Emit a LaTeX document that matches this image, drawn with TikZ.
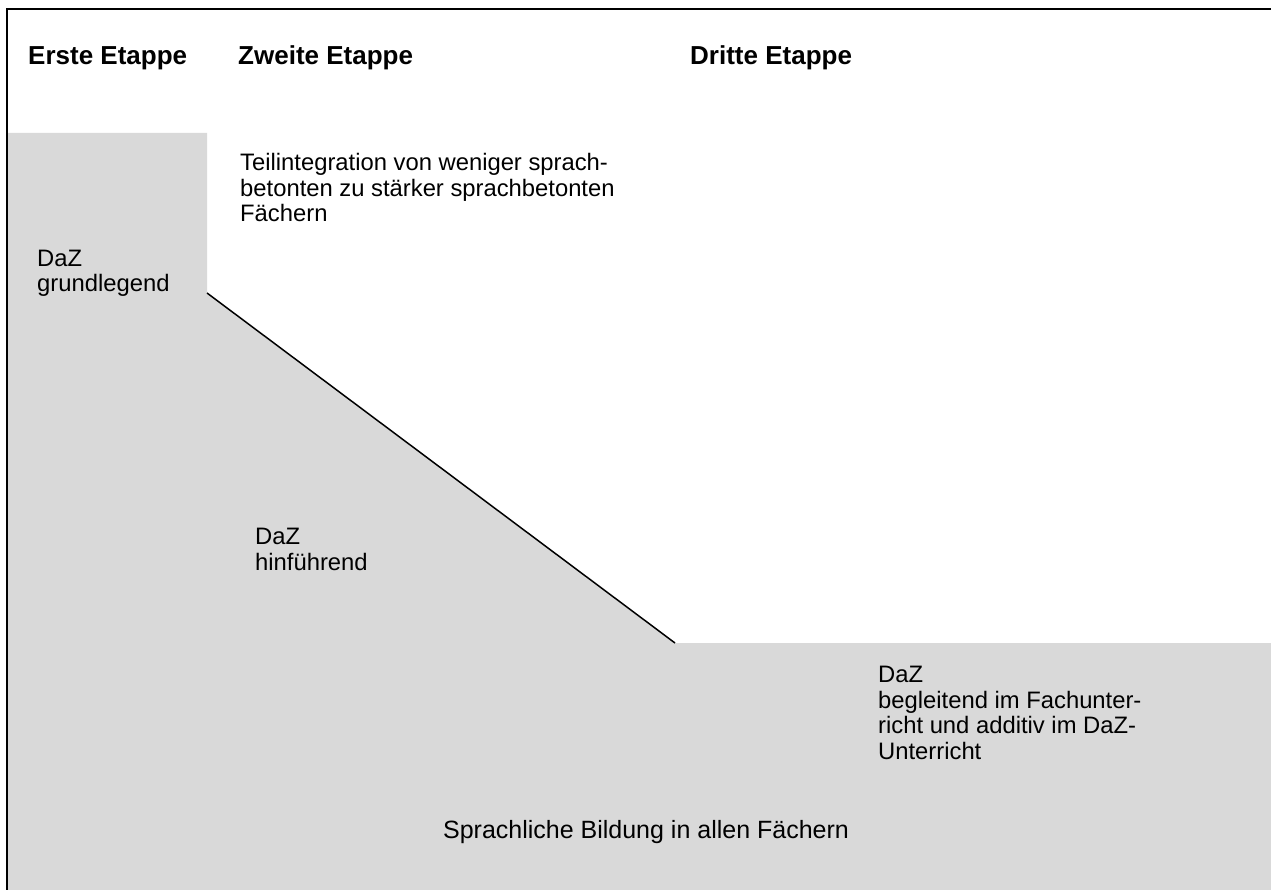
\documentclass[tikz,border=0pt]{standalone}
\usepackage{fontspec}
\setmainfont{Liberation Sans}
\usetikzlibrary{positioning}
\definecolor{bandgray}{HTML}{D9D9D9}
\begin{document}
\begin{tikzpicture}[x=1pt,y=-1pt,
		head/.style={anchor=base west, inner sep=0pt, font=\fontsize{26}{30}\selectfont\bfseries},
		txt/.style={anchor=base west, inner sep=0pt, align=left, font=\fontsize{23.8}{25.5}\selectfont},
	]
		\useasboundingbox (0,0) rectangle (1271,890);
		% grey area
		\fill[bandgray] (8,133) -- (207,133) -- (207,293) -- (675,643) -- (1271,643) -- (1271,890) -- (8,890) -- cycle;
		\coordinate (slopetop) at (207,293);
		\coordinate (slopeend) at (675,643);
		\draw[line width=1.5pt] (slopetop) -- (slopeend);
		\draw[line width=2pt] (7,890) -- (7,9) -- (1271,9);
		
		\node[head] (e1) at (28,65) {Erste Etappe};
		\node[head] (e2) at (238,65) {Zweite Etappe};
		\node[head] (e3) at (690,65) {Dritte Etappe};
		
		% base anchor = last line
		\node[txt] (teil) at (240,222) {Teilintegration von weniger sprach-\\betonten zu stärker sprachbetonten\\Fächern};
		\node[txt] (grund) at (37,292) {DaZ\\grundlegend};
		\node[txt] (hin) at (255,570) {DaZ\\hinführend};
		\node[txt] (begl) at (878,759) {DaZ\\begleitend im Fachunter-\\richt und additiv im DaZ-\\Unterricht};
		\node[anchor=base, inner sep=0pt, font=\fontsize{25}{30}\selectfont] (bild) at (646,838) {Sprachliche Bildung in allen Fächern};
	\end{tikzpicture}
\end{document}
